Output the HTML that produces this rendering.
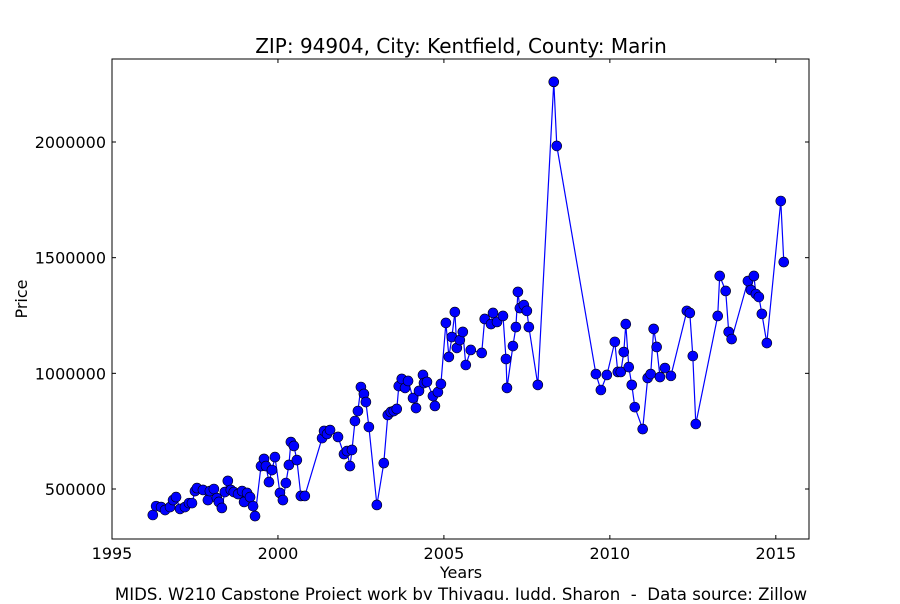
<!DOCTYPE html>
<html><head><meta charset="utf-8"><style>
body{margin:0;background:#fff;font-family:"DejaVu Sans","Liberation Sans",sans-serif;}
svg text{font-family:"DejaVu Sans","Liberation Sans",sans-serif;white-space:pre;}
</style></head><body>
<svg id="chart" width="900" height="600" viewBox="0 0 900 600">
<rect x="0" y="0" width="900" height="600" fill="#fff"/>
<text x="461" y="53" text-anchor="middle" font-size="20">ZIP: 94904, City: Kentfield, County: Marin</text>
<g id="ticks"></g>
<g id="series"></g>
<rect x="112" y="59" width="697" height="480" fill="none" stroke="#000" stroke-width="1"/>
<text x="461" y="578" text-anchor="middle" font-size="16">Years</text>
<text x="27" y="299" text-anchor="middle" font-size="16" transform="rotate(-90 27 299)">Price</text>
<text x="461" y="600" text-anchor="middle" font-size="16.6" xml:space="preserve">MIDS, W210 Capstone Project work by Thiyagu, Judd, Sharon  -  Data source: Zillow</text>
</svg>
<script>
const xTicks=[1995,2000,2005,2010,2015];
const yTicks=[500000,1000000,1500000,2000000];
const years=[1996.23,1996.33,1996.48,1996.60,1996.75,1996.84,1996.93,1997.05,1997.20,1997.32,1997.41,1997.50,1997.56,1997.74,1997.89,1997.95,1998.07,1998.16,1998.22,1998.31,1998.40,1998.49,1998.58,1998.67,1998.80,1998.92,1998.98,1999.07,1999.16,1999.25,1999.31,1999.49,1999.58,1999.64,1999.73,1999.82,1999.91,2000.06,2000.15,2000.24,2000.33,2000.39,2000.48,2000.57,2000.69,2000.81,
2001.33,2001.39,2001.48,2001.57,2001.81,2001.99,2002.08,2002.17,2002.23,2002.32,2002.41,2002.50,2002.59,2002.65,2002.74,2002.98,2003.19,2003.31,2003.40,2003.49,2003.58,2003.64,2003.73,2003.83,2003.92,2004.07,2004.16,2004.25,2004.37,2004.40,2004.49,2004.67,2004.73,2004.82,2004.91,
2005.06,2005.15,2005.24,2005.33,2005.39,2005.48,2005.57,2005.66,2005.81,2006.14,2006.23,2006.42,2006.48,2006.60,2006.78,2006.87,2006.90,2007.08,2007.17,2007.23,2007.29,2007.41,2007.50,2007.56,2007.83,2008.31,2008.40,
2009.58,2009.73,2009.91,2010.15,2010.24,2010.33,2010.42,2010.48,2010.57,2010.66,2010.75,2010.99,2011.14,2011.23,2011.32,2011.41,2011.51,2011.66,2011.84,2012.32,2012.41,2012.50,2012.59,2013.25,2013.31,2013.49,2013.58,2013.67,2014.16,2014.25,2014.34,2014.40,2014.49,2014.58,2014.73,2015.15,2015.24];
const prices=[387600,426000,422000,409000,422000,452000,465000,414000,422000,439000,439000,491000,504000,496000,452000,491000,500000,461000,444000,418000,487000,535000,496000,487000,478000,491000,444000,483000,465000,426000,383000,599000,630000,599000,530000,582000,638000,483000,452000,526000,604000,703000,686000,625000,470000,470000,
720000,751000,738000,755000,725000,651000,664000,599000,669000,794000,837000,941000,911000,876000,768000,431000,612000,820000,833000,837000,846000,945000,976000,937000,967000,893000,850000,924000,993000,958000,963000,902000,859000,919000,954000,
1218000,1071000,1157000,1265000,1110000,1144000,1179000,1036000,1101000,1088000,1235000,1213000,1261000,1222000,1248000,1062000,937000,1118000,1200000,1352000,1282000,1295000,1270000,1200000,950000,2260000,1983000,
997000,928000,993000,1136000,1006000,1006000,1092000,1213000,1027000,950000,854000,759000,980000,997000,1192000,1114000,984000,1023000,989000,1270000,1261000,1075000,781000,1248000,1421000,1356000,1179000,1148000,1399000,1360000,1421000,1343000,1330000,1257000,1131000,1745000,1481000];
const X0=112,X1=809,Y0=539,Y1=59,xMin=1995,xMax=2016,yMin=283900,yMax=2358800;
function sx(v){return X0+(v-xMin)/(xMax-xMin)*(X1-X0);}
function sy(v){return Y0-(v-yMin)/(yMax-yMin)*(Y0-Y1);}
const NS="http://www.w3.org/2000/svg";
const tg=document.getElementById('ticks'),sg=document.getElementById('series');
function mk(t,a,p){const e=document.createElementNS(NS,t);for(const k in a)e.setAttribute(k,a[k]);p.appendChild(e);return e;}
xTicks.forEach(t=>{const x=sx(t);
 const l1=mk('line',{x1:x,x2:x,y1:Y0,y2:Y0-4,stroke:'#000'},tg);
 
 
 const l2=mk('line',{x1:x,x2:x,y1:Y1,y2:Y1+4,stroke:'#000'},tg);
 
 
 const tx=mk('text',{x:x,y:559,'text-anchor':'middle','font-size':16},tg);tx.textContent=t;
 
 
});
yTicks.forEach(t=>{const y=sy(t);
 const l1=mk('line',{x1:X0,x2:X0+4,y1:y,y2:y,stroke:'#000'},tg);
 
 
 const l2=mk('line',{x1:X1,x2:X1-4,y1:y,y2:y,stroke:'#000'},tg);
 
 
 const tx=mk('text',{x:106,y:y+6,'text-anchor':'end','font-size':16},tg);tx.textContent=t;
 
 
});
const pts=years.map((y,i)=>sx(y).toFixed(1)+','+sy(prices[i]).toFixed(1)).join(' ');
const pl=mk('polyline',{points:pts,fill:'none',stroke:'#0000ff','stroke-width':1.2},sg);


years.forEach((y,i)=>{
 const c=mk('circle',{cx:sx(y),cy:sy(prices[i]),r:5,fill:'#0000ff',stroke:'#000','stroke-width':0.6},sg);
 
 
});
</script>
</body></html>
